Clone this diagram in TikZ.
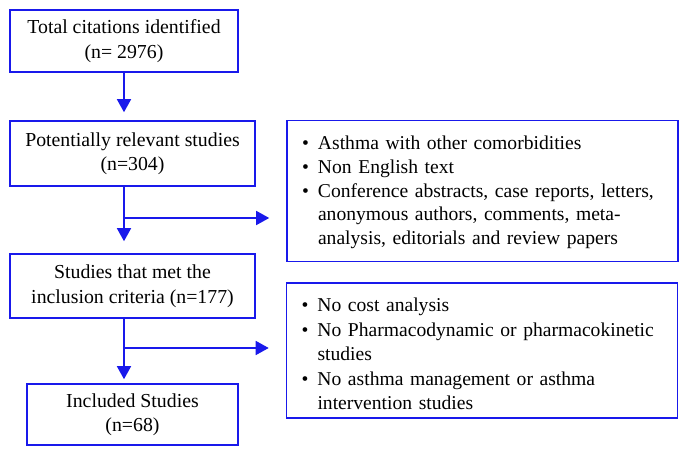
\documentclass[tikz,border=0pt]{standalone}
\usepackage{fontspec}
\setmainfont{Liberation Serif}
\usetikzlibrary{arrows.meta}
\definecolor{fb}{RGB}{25,25,235}
\newcommand\bitem[1]{\par\hangindent=16pt\hangafter=1\noindent\hbox to 16pt{\textbullet\hfil}#1\par}
\newcommand\bottompad[1]{\par\nointerlineskip\vbox to #1{}}
\begin{document}
\begin{tikzpicture}[x=1pt,y=-1pt,
  box/.style={draw=fb, line width=1.6pt, align=center, inner sep=0pt,
    font=\fontsize{19.8}{24.5}\selectfont},
  listbox/.style={draw=fb, line width=1.6pt, align=left, inner xsep=15pt, inner ysep=0pt,
    text width=361pt, minimum width=391pt,
    font=\fontsize{19.6}{23.5}\selectfont},
  link/.style={draw=fb, line width=1.6pt},
  arr/.style={link, -{Triangle[width=14pt,length=13pt]}}]
\useasboundingbox (0,0) rectangle (685,452);

\node[box, minimum width=228pt, minimum height=62pt] (b1) at (124,41) {Total citations identified\\(n= 2976)};
\node[box, minimum width=245pt, minimum height=65pt] (b2) at (132.5,153.5) {Potentially relevant studies\\(n=304)};
\node[box, minimum width=245pt, minimum height=64pt] (b3) at (132.5,286) {Studies that met the\\inclusion criteria (n=177)};
\node[box, minimum width=211pt, minimum height=61pt] (b4) at (132.5,414.5) {Included Studies\\(n=68)};

\node[listbox, minimum height=141pt] (e1) at (482.5,191) {\setlength\parskip{0.5pt}%
\bitem{Asthma with other comorbidities}
\bitem{Non English text}
\bitem{Conference abstracts, case reports, letters,\newline anonymous authors, comments, meta-\newline analysis, editorials and review papers}\bottompad{8pt}};
\node[listbox, minimum height=135pt] (e2) at (482,350.5) {\setlength\parskip{2pt}%
\bitem{No cost analysis}
\bitem{No Pharmacodynamic or pharmacokinetic\newline studies}
\bitem{No asthma management or asthma\newline intervention studies}\bottompad{6pt}};

\coordinate (j1) at (b1.south |- 0,218);
\coordinate (j2) at (b1.south |- 0,348);

\draw[arr, shorten >=8pt] (b1.south) -- (b1.south |- b2.north);
\draw[link] (b2.south -| b1.south) -- (j1);
\draw[arr, shorten >=12pt] (j1) -- (b3.north -| b1.south);
\draw[arr, shorten >=17pt] (j1) -- (j1 -| e1.west);
\draw[link] (b3.south -| b1.south) -- (j2);
\draw[arr, shorten >=4pt] (j2) -- (b4.north -| b1.south);
\draw[arr, shorten >=17pt] (j2) -- (j2 -| e2.west);
\end{tikzpicture}
\end{document}
